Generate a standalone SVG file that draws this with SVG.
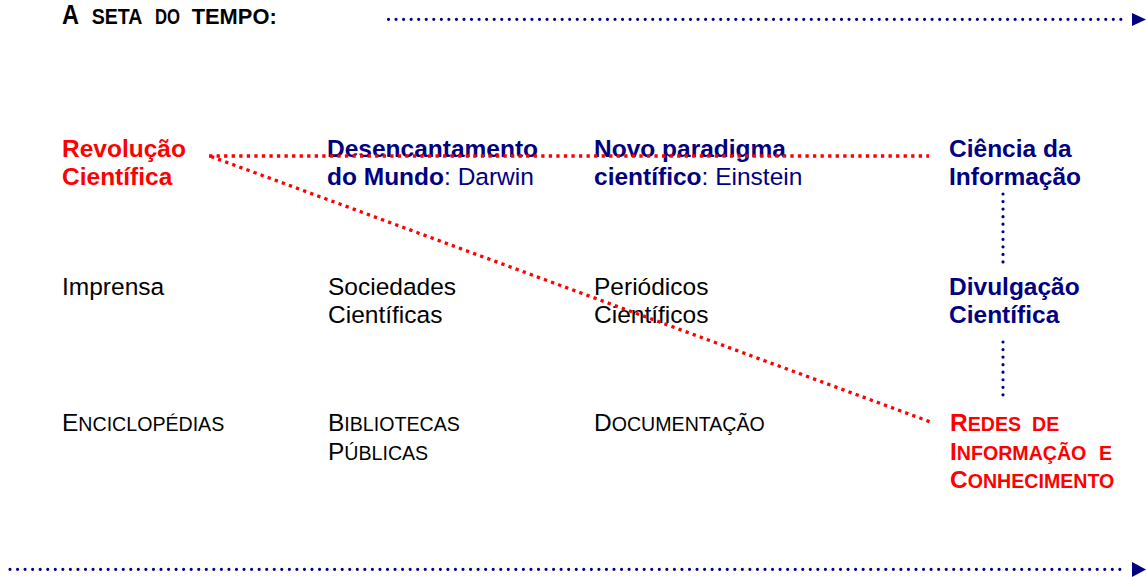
<svg xmlns="http://www.w3.org/2000/svg" width="1146" height="577" viewBox="0 0 1146 577">
<style>
text { font-family: "Liberation Sans", Arial, Helvetica, sans-serif; font-size: 24.5px; fill: #000; }
.b { font-weight: bold; }
.red { fill: #FF0000; }
.navy { fill: #000080; }
.sc { font-size: 19.6px; }
.n { font-weight: normal; }
.tdot { fill: none; stroke: #000080; stroke-width: 3.2; stroke-linecap: round; stroke-dasharray: 0 7.55; }
.rdot { fill: none; stroke: #FF0000; stroke-width: 3.3; stroke-dasharray: 3.3 4.25; }
.head { fill: #000080; }
</style>
<rect width="1146" height="577" fill="#fff"/>

<g id="title">
  <text class="b" y="23.5"><tspan x="62" font-size="27.5" textLength="17" lengthAdjust="spacingAndGlyphs">A</tspan><tspan x="91.7" font-size="22" textLength="50.7" lengthAdjust="spacingAndGlyphs">SETA</tspan><tspan x="155" font-size="22" textLength="25" lengthAdjust="spacingAndGlyphs">DO</tspan><tspan x="191.7" font-size="22" textLength="85" lengthAdjust="spacingAndGlyphs">TEMPO:</tspan></text>
</g>

<g id="revolucao">
  <text class="b red" x="62" y="156.5">Revolução</text>
  <text class="b red" x="62" y="185">Científica</text>
</g>
<g id="desencantamento">
  <text class="b navy" x="327" y="156.5">Desencantamento</text>
  <text class="b navy" x="327" y="185">do Mundo<tspan class="n">: Darwin</tspan></text>
</g>
<g id="novo-paradigma">
  <text class="b navy" x="594" y="156.5">Novo paradigma</text>
  <text class="b navy" x="594" y="185">científico<tspan class="n">: Einstein</tspan></text>
</g>
<g id="ciencia-informacao">
  <text class="b navy" x="949" y="156.5">Ciência da</text>
  <text class="b navy" x="949" y="185">Informação</text>
</g>

<g id="imprensa">
  <text x="62" y="294.5">Imprensa</text>
</g>
<g id="sociedades">
  <text x="328" y="294.5">Sociedades</text>
  <text x="328" y="323">Científicas</text>
</g>
<g id="periodicos">
  <text x="594" y="294.5">Periódicos</text>
  <text x="594" y="323">Científicos</text>
</g>
<g id="divulgacao">
  <text class="b navy" x="949" y="294.5">Divulgação</text>
  <text class="b navy" x="949" y="323">Científica</text>
</g>

<g id="enciclopedias">
  <text x="62" y="431">E<tspan class="sc">NCICLOPÉDIAS</tspan></text>
</g>
<g id="bibliotecas">
  <text x="328" y="431">B<tspan class="sc">IBLIOTECAS</tspan></text>
  <text x="328" y="459.5">P<tspan class="sc">ÚBLICAS</tspan></text>
</g>
<g id="documentacao">
  <text x="594" y="431">D<tspan class="sc">OCUMENTAÇÃO</tspan></text>
</g>
<g id="redes">
  <text class="b red" x="950" y="431">R<tspan class="sc">EDES</tspan><tspan class="sc" x="1032">DE</tspan></text>
  <text class="b red" x="950" y="459.5">I<tspan class="sc">NFORMAÇÃO</tspan><tspan class="sc" x="1099">E</tspan></text>
  <text class="b red" x="950" y="488">C<tspan class="sc">ONHECIMENTO</tspan></text>
</g>

<g id="connectors">
  <line class="tdot" x1="388.5" y1="19.3" x2="1127" y2="19.3"/>
  <polygon class="head" points="1132,13 1146,19.5 1132,26"/>
  <line class="tdot" x1="10" y1="569.3" x2="1125" y2="569.3"/>
  <polygon class="head" points="1132,562 1146,569.5 1132,577"/>
  <line class="rdot" x1="209" y1="156" x2="929" y2="156"/>
  <line class="rdot" x1="211" y1="156.5" x2="932" y2="422.5"/>
  <line class="tdot" x1="1003" y1="194" x2="1003" y2="263"/>
  <line class="tdot" x1="1003" y1="342" x2="1003" y2="396"/>
</g>
</svg>
